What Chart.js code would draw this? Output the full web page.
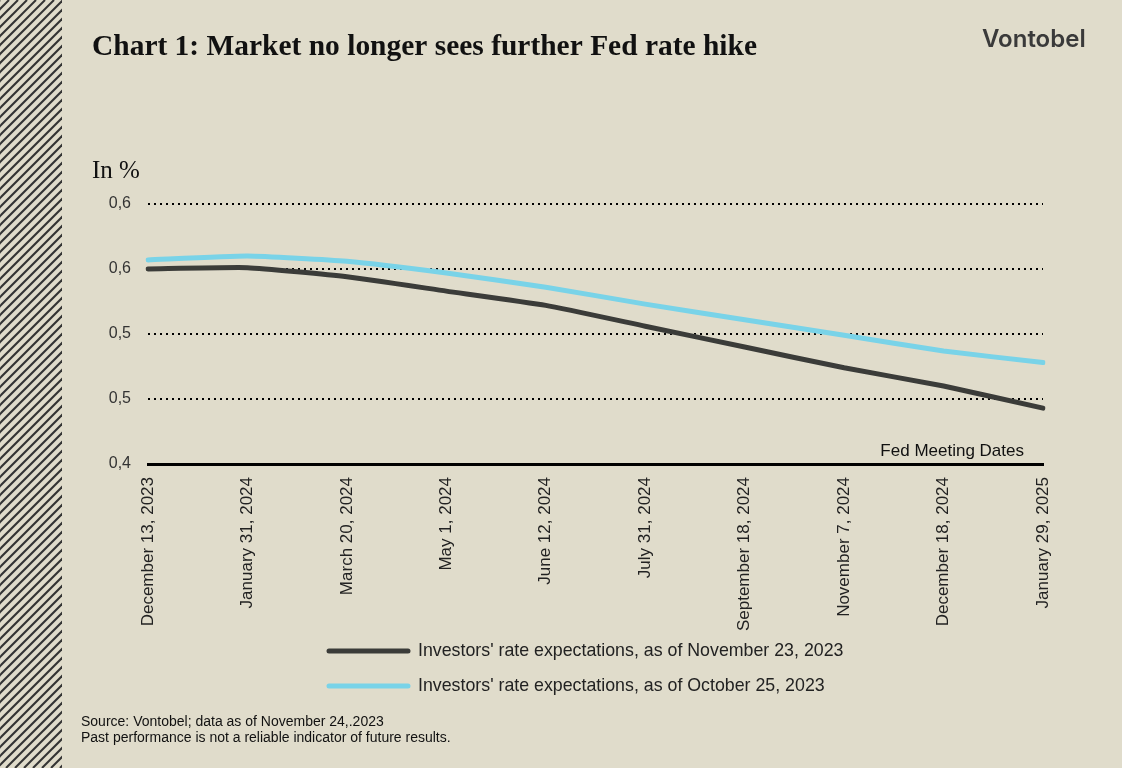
<!DOCTYPE html>
<html>
<head>
<meta charset="utf-8">
<script src="https://cdn.jsdelivr.net/npm/chart.js@4.4.1/dist/chart.umd.min.js"></script>
<style>
    html, body { margin: 0; padding: 0; background: #e0dccb; }
    #wrap { width: 1122px; height: 768px; }
</style>
</head>
<body>
<div id="wrap"><canvas id="chart" width="1122" height="768"></canvas></div>
<script>
// Fed meeting dates (x categories)
const meetingDates = [
    `December 13, 2023`, `January 31, 2024`, `March 20, 2024`, `May 1, 2024`, `June 12, 2024`,
    `July 31, 2024`, `September 18, 2024`, `November 7, 2024`, `December 18, 2024`, `January 29, 2025`
];
// expected rate
const asOfNovember = [0.550, 0.551, 0.544, 0.533, 0.522, 0.506, 0.490, 0.474, 0.460, 0.443];
const asOfOctober = [0.557, 0.560, 0.556, 0.547, 0.536, 0.523, 0.511, 0.499, 0.487, 0.478];
const seriesNames = [
    `Investors' rate expectations, as of November 23, 2023`,
    `Investors' rate expectations, as of October 25, 2023`
];
const yMin = 0.4;
const yMax = 0.6;
const yStep = 0.05;

const BG = `#e0dccb`;
const DARK = `#3b3c39`;
const LIGHT = `#79d3e8`;
const NARROW = `"Liberation Sans Narrow", "Liberation Sans", Arial, sans-serif`;

const decor = {
    id: `decor`,
    beforeDraw(chart) {
        const ctx = chart.ctx;
        ctx.save();
        ctx.fillStyle = BG;
        ctx.fillRect(0, 0, chart.width, chart.height);
        // hatched strip on the left
        ctx.beginPath();
        ctx.rect(0, 0, 62, chart.height);
        ctx.clip();
        ctx.strokeStyle = `#333`;
        ctx.lineWidth = 2;
        for (let x = -chart.height; x < 80; x += 9) {
            ctx.beginPath();
            ctx.moveTo(x, chart.height);
            ctx.lineTo(x + chart.height, 0);
            ctx.stroke();
        }
        ctx.restore();
    },
    afterDraw(chart) {
        const ctx = chart.ctx;
        const area = chart.chartArea;
        ctx.save();
        ctx.textBaseline = `alphabetic`;
        ctx.textAlign = `left`;

        ctx.fillStyle = `#111`;
        ctx.font = `bold 29.5px "Liberation Serif", "DejaVu Serif", serif`;
        ctx.fillText(`Chart 1: Market no longer sees further Fed rate hike`, 92, 55, 665);

        ctx.fillStyle = `#3a3a3a`;
        ctx.font = `600 24px Inter, "Open Sans", sans-serif`;
        ctx.fillText(`Vontobel`, 982, 47, 108);

        ctx.fillStyle = `#111`;
        ctx.font = `25px "Liberation Serif", "DejaVu Serif", serif`;
        ctx.fillText(`In %`, 92, 178);

        ctx.font = `17px ${NARROW}`;
        ctx.textAlign = `right`;
        ctx.fillText(`Fed Meeting Dates`, area.right - 19, area.bottom - 8, 148);

        // legend, one item per row
        ctx.textAlign = `left`;
        ctx.textBaseline = `middle`;
        chart.data.datasets.forEach((ds, i) => {
            const y = 651 + i * 35;
            ctx.strokeStyle = ds.borderColor;
            ctx.lineWidth = 5;
            ctx.lineCap = `round`;
            ctx.beginPath();
            ctx.moveTo(329, y);
            ctx.lineTo(408, y);
            ctx.stroke();
            ctx.fillStyle = `#222`;
            ctx.font = `17.8px ${NARROW}`;
            ctx.fillText(ds.label, 418, y);
        });

        ctx.textBaseline = `alphabetic`;
        ctx.fillStyle = `#111`;
        ctx.font = `14px ${NARROW}`;
        ctx.fillText(`Source: Vontobel; data as of November 24,.2023`, 81, 726);
        ctx.fillText(`Past performance is not a reliable indicator of future results.`, 81, 742);
        ctx.restore();
    }
};

new Chart(document.getElementById(`chart`).getContext(`2d`), {
    type: `line`,
    data: {
        labels: meetingDates,
        datasets: [
            {
                label: seriesNames[0],
                data: asOfNovember,
                borderColor: DARK,
                borderWidth: 5,
                pointRadius: 0,
                tension: 0.15,
                borderCapStyle: `round`
            },
            {
                label: seriesNames[1],
                data: asOfOctober,
                borderColor: LIGHT,
                borderWidth: 5,
                pointRadius: 0,
                tension: 0.15,
                borderCapStyle: `round`
            }
        ]
    },
    options: {
        responsive: false,
        animation: false,
        devicePixelRatio: 1,
        layout: { padding: { top: 204, right: 79, bottom: 0, left: 0 } },
        plugins: {
            legend: { display: false },
            tooltip: { enabled: false }
        },
        scales: {
            x: {
                offset: false,
                afterFit: s => { s.height = 304; },
                grid: { display: false },
                border: { display: true, color: `#000`, width: 3 },
                ticks: {
                    autoSkip: false,
                    minRotation: 90,
                    maxRotation: 90,
                    padding: 5,
                    color: `#222`,
                    font: { family: `"Liberation Sans", Arial, sans-serif`, size: 17 }
                }
            },
            y: {
                min: yMin,
                max: yMax,
                afterFit: s => { s.width = 148; },
                grid: {
                    drawTicks: false,
                    color: `#000`,
                    lineWidth: c => (Math.abs(c.tick.value - yMin) < 1e-9 ? 0 : 2)
                },
                border: { display: false, dash: [2, 4] },
                ticks: {
                    stepSize: yStep,
                    padding: 17,
                    color: `#333`,
                    font: { family: `"Liberation Sans", Arial, sans-serif`, size: 16 },
                    callback: v => (Math.round(v * 10 + 1e-9) / 10).toFixed(1).replace(`.`, `,`)
                }
            }
        }
    },
    plugins: [decor]
});
</script>
</body>
</html>
